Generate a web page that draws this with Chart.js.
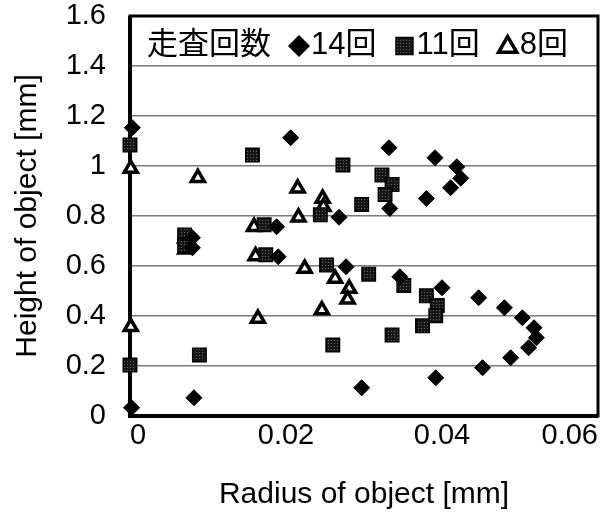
<!DOCTYPE html>
<html>
<head>
<meta charset="utf-8">
<script src="https://cdn.jsdelivr.net/npm/chart.js@4.4.1/dist/chart.umd.min.js"></script>
<style>
  html, body { margin: 0; padding: 0; background: #fff; }
  canvas { display: block; }
</style>
</head>
<body>
<canvas id="chart" width="615" height="519"></canvas>
<script>
// values
var legendTitle = '走査回数';
var seriesNames = ['14回', '11回', '8回'];

var scan14X = [0.0003, 0.0206, 0.0332, 0.0391, 0.0419, 0.0424, 0.0411, 0.0380, 0.0333, 0.0268, 0.0188, 0.0080, 0.0080, 0.0190, 0.0277, 0.0346, 0.0400, 0.0447, 0.0480, 0.0503, 0.0518, 0.0521, 0.0511, 0.0488, 0.0452, 0.0392, 0.0297, 0.0082, 0.0002];
var scan14Y = [1.153, 1.113, 1.073, 1.033, 0.997, 0.951, 0.913, 0.870, 0.830, 0.795, 0.757, 0.713, 0.673, 0.637, 0.597, 0.557, 0.513, 0.473, 0.433, 0.393, 0.353, 0.313, 0.273, 0.233, 0.193, 0.153, 0.113, 0.073, 0.033];

var scan11X = [0.0000, 0.0157, 0.0273, 0.0323, 0.0336, 0.0327, 0.0297, 0.0244, 0.0172, 0.0070, 0.0070, 0.0174, 0.0252, 0.0306, 0.0351, 0.0380, 0.0394, 0.0392, 0.0375, 0.0336, 0.0260, 0.0089, 0.0000];
var scan11Y = [1.084, 1.044, 1.004, 0.964, 0.926, 0.886, 0.846, 0.805, 0.765, 0.724, 0.684, 0.645, 0.604, 0.567, 0.522, 0.481, 0.442, 0.401, 0.361, 0.324, 0.284, 0.244, 0.204];

var scan8X = [0.0001, 0.0087, 0.0215, 0.0247, 0.0248, 0.0216, 0.0159, 0.0071, 0.0071, 0.0161, 0.0224, 0.0263, 0.0281, 0.0279, 0.0246, 0.0164, 0.0001];
var scan8Y = [0.990, 0.953, 0.911, 0.870, 0.837, 0.795, 0.757, 0.710, 0.667, 0.640, 0.590, 0.550, 0.510, 0.467, 0.424, 0.390, 0.357];

var xTicks = [0, 0.02, 0.04, 0.06];
var yTicks = [0, 0.2, 0.4, 0.6, 0.8, 1, 1.2, 1.4, 1.6];

function pairs(xs, ys) {
  return xs.map(function(x, i) { return { x: x, y: ys[i] }; });
}

// dark square fill with a faint dotted texture
function squarePattern() {
  var c = document.createElement('canvas');
  c.width = 3; c.height = 3;
  var g = c.getContext('2d');
  g.fillStyle = '#161616';
  g.fillRect(0, 0, 3, 3);
  g.fillStyle = '#6a6a6a';
  g.fillRect(1, 1, 1, 1);
  return g.createPattern(c, 'repeat');
}

var FONT = '"Liberation Sans", "Noto Sans CJK JP", Arial, sans-serif';
Chart.defaults.font.family = FONT;
Chart.defaults.color = '#000';

var legendRadius = [10.5, 12, 10.5];

var framePlugin = {
  id: 'frame',
  beforeDatasetsDraw: function(chart) {
    var a = chart.chartArea, ctx = chart.ctx;
    ctx.save();
    ctx.strokeStyle = '#000';
    ctx.lineWidth = 3;
    ctx.strokeRect(a.left, a.top, a.right - a.left, a.bottom - a.top);
    ctx.lineWidth = 4;
    ctx.beginPath();
    ctx.moveTo(a.left, a.top);
    ctx.lineTo(a.left, a.bottom);
    ctx.lineTo(a.right, a.bottom);
    ctx.stroke();
    ctx.restore();
  }
};

var legendPlugin = {
  id: 'inlineLegend',
  afterDraw: function(chart) {
    var a = chart.chartArea, ctx = chart.ctx;
    var y = a.top + 29;
    var x = a.left + 17;
    ctx.save();
    ctx.font = '31px ' + FONT;
    ctx.fillStyle = '#000';
    ctx.textBaseline = 'middle';
    ctx.textAlign = 'left';
    ctx.fillText(legendTitle, x, y);
    x += ctx.measureText(legendTitle).width;
    chart.data.datasets.forEach(function(ds, i) {
      var r = legendRadius[i];
      x += 18;
      ctx.fillStyle = ds.backgroundColor;
      ctx.strokeStyle = ds.borderColor;
      ctx.lineWidth = ds.borderWidth;
      ctx.lineJoin = 'miter';
      var py = ds.pointStyle === 'triangle' ? y + 2 : y + 1;
      Chart.helpers.drawPoint(ctx, { pointStyle: ds.pointStyle, radius: r, borderWidth: ds.borderWidth, rotation: 0 }, x + 10, py);
      x += 22;
      ctx.fillStyle = '#000';
      ctx.fillText(ds.label, x, y);
      x += ctx.measureText(ds.label).width;
    });
    ctx.restore();
  }
};

new Chart(document.getElementById('chart'), {
  type: 'scatter',
  data: {
    datasets: [
      {
        label: seriesNames[0],
        data: pairs(scan14X, scan14Y),
        pointStyle: 'rectRot',
        pointRadius: 8,
        backgroundColor: '#000',
        borderColor: '#000',
        borderWidth: 1,
        clip: false
      },
      {
        label: seriesNames[1],
        data: pairs(scan11X, scan11Y),
        pointStyle: 'rect',
        pointRadius: 9.5,
        backgroundColor: squarePattern(),
        borderColor: '#000',
        borderWidth: 1.5,
        clip: false
      },
      {
        label: seriesNames[2],
        data: pairs(scan8X, scan8Y),
        pointStyle: 'triangle',
        pointRadius: 7.5,
        backgroundColor: '#fff',
        borderColor: '#000',
        borderWidth: 3.5,
        clip: false
      }
    ]
  },
  options: {
    responsive: false,
    animation: false,
    events: [],
    layout: { padding: { top: 16, right: 17, left: 0, bottom: 0 } },
    plugins: {
      legend: { display: false },
      tooltip: { enabled: false }
    },
    scales: {
      x: {
        type: 'linear',
        min: 0,
        max: 0.06,
        afterBuildTicks: function(scale) {
          scale.ticks = xTicks.map(function(v) { return { value: v }; });
        },
        afterFit: function(scale) {
          scale.height = 103;
          scale.paddingLeft = 0;
          scale.paddingRight = 0;
        },
        grid: { display: false, drawTicks: false },
        border: { display: false },
        ticks: {
          padding: 3,
          align: 'inner',
          maxRotation: 0,
          font: { size: 29 },
          callback: function(v) { return String(Math.round(v * 1000) / 1000); }
        },
        title: {
          display: true,
          text: 'Radius of object [mm]',
          font: { size: 30 },
          padding: { top: 0, bottom: 6 }
        }
      },
      y: {
        type: 'linear',
        min: 0,
        max: 1.6,
        afterBuildTicks: function(scale) {
          scale.ticks = yTicks.map(function(v) { return { value: v }; });
        },
        afterFit: function(scale) {
          scale.width = 130;
          scale.paddingTop = 0;
          scale.paddingBottom = 0;
        },
        grid: { color: '#7a7a7a', lineWidth: 1.5, drawTicks: false },
        border: { display: false },
        ticks: {
          padding: 24,
          font: { size: 29 },
          callback: function(v) { return String(Math.round(v * 100) / 100); }
        },
        title: {
          display: true,
          text: 'Height of object [mm]',
          font: { size: 30 },
          padding: { top: 10, bottom: 0 }
        }
      }
    }
  },
  plugins: [framePlugin, legendPlugin]
});
</script>
</body>
</html>
